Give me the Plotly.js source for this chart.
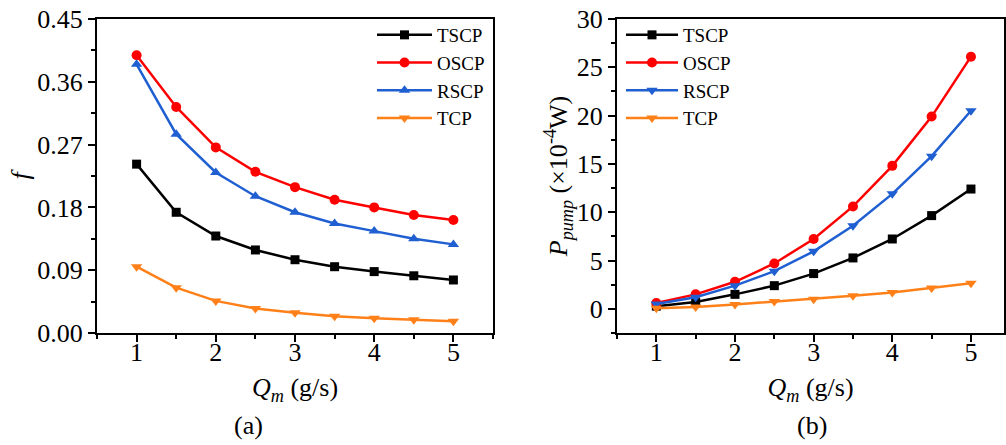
<!DOCTYPE html>
<html>
<head>
<meta charset="utf-8">
<script src="https://cdn.plot.ly/plotly-3.0.1.min.js"></script>
<style>html,body{margin:0;padding:0;background:#fff;}</style>
</head>
<body>
<div id="chart" style="width:1006px;height:445px;"></div>
<script>
const Qm = [1, 1.5, 2, 2.5, 3, 3.5, 4, 4.5, 5];
const seriesNames = ['TSCP', 'OSCP', 'RSCP', 'TCP'];
// (a) friction factor f
const f_TSCP = [0.242, 0.173, 0.139, 0.119, 0.105, 0.095, 0.088, 0.082, 0.076];
const f_OSCP = [0.398, 0.324, 0.266, 0.231, 0.209, 0.191, 0.180, 0.169, 0.162];
const f_RSCP = [0.385, 0.285, 0.230, 0.196, 0.173, 0.157, 0.146, 0.135, 0.127];
const f_TCP  = [0.095, 0.065, 0.046, 0.035, 0.029, 0.024, 0.021, 0.019, 0.017];
// (b) pump power (x10^-4 W)
const P_TSCP = [0.28, 0.7, 1.5, 2.4, 3.65, 5.27, 7.23, 9.65, 12.4];
const P_OSCP = [0.6, 1.5, 2.8, 4.7, 7.23, 10.6, 14.8, 19.9, 26.1];
const P_RSCP = [0.5, 1.2, 2.4, 3.9, 5.95, 8.6, 11.9, 15.8, 20.5];
const P_TCP  = [0.05, 0.2, 0.45, 0.76, 1.0, 1.35, 1.7, 2.15, 2.65];

const colors = ['#000000', '#ff0000', '#1f5fd2', '#ff8019'];
const symbolsA = ['square', 'circle', 'triangle-up', 'triangle-down'];
const symbolsB = ['square', 'circle', 'triangle-down', 'triangle-down'];
const dataA = [f_TSCP, f_OSCP, f_RSCP, f_TCP];
const dataB = [P_TSCP, P_OSCP, P_RSCP, P_TCP];

const traces = [];
dataA.forEach((ys, i) => traces.push({
  x: Qm, y: ys, name: seriesNames[i], type: 'scatter', mode: 'lines+markers',
  xaxis: 'x', yaxis: 'y', legend: 'legend',
  line: {color: colors[i], width: 2.5},
  marker: {symbol: symbolsA[i], size: i === 0 ? 9 : 10, color: colors[i]}
}));
dataB.forEach((ys, i) => traces.push({
  x: Qm, y: ys, name: seriesNames[i], type: 'scatter', mode: 'lines+markers',
  xaxis: 'x2', yaxis: 'y2', legend: 'legend2',
  line: {color: colors[i], width: 2.5},
  marker: {symbol: symbolsB[i], size: i === 0 ? 9 : 10, color: colors[i]}
}));

const FONT = '"Liberation Serif", serif';
const mkFont = (s) => ({family: FONT, size: s, color: '#000'});
const yDom = [(445 - 333) / 445, (445 - 19) / 445];
function axisCommon() {
  return {
    showline: true, linewidth: 2, linecolor: '#000', mirror: true,
    ticks: 'outside', ticklen: 7, tickwidth: 2, tickcolor: '#000',
    showgrid: false, zeroline: false,
    tickfont: mkFont(26)
  };
}
function minorTicks(d, t0) {
  return {dtick: d, tick0: t0, ticks: 'outside', ticklen: 4, tickwidth: 2, tickcolor: '#000'};
}
const qmTitle = () => ({text: '<i>Q</i><sub><i>m</i></sub> (g/s)', font: mkFont(26), standoff: 12});

const layout = {
  width: 1006, height: 445,
  font: mkFont(26),
  margin: {l: 0, r: 0, t: 0, b: 0},
  paper_bgcolor: '#fff', plot_bgcolor: '#fff',
  showlegend: true,
  xaxis: Object.assign(axisCommon(), {
    domain: [97 / 1006, 493 / 1006], range: [0.5, 5.5], tickvals: [1, 2, 3, 4, 5],
    ticklabelstandoff: -12,
    minor: minorTicks(0.5, 0.5), title: qmTitle(), anchor: 'y'
  }),
  yaxis: Object.assign(axisCommon(), {
    domain: yDom, range: [0, 0.45], tick0: 0, dtick: 0.09, tickformat: '.2f',
    minor: minorTicks(0.045, 0),
    title: {text: '<i>f</i>', font: mkFont(26), standoff: 0},
    anchor: 'x'
  }),
  xaxis2: Object.assign(axisCommon(), {
    domain: [617 / 1006, 1004 / 1006], range: [0.5, 5.42], tickvals: [1, 2, 3, 4, 5],
    ticklabelstandoff: -12,
    minor: minorTicks(0.5, 0.5), title: qmTitle(), anchor: 'y2'
  }),
  yaxis2: Object.assign(axisCommon(), {
    domain: yDom, range: [-2.5, 30], tick0: 0, dtick: 5,
    minor: minorTicks(2.5, 0),
    title: {text: '<i>P</i><sub><i>pump</i></sub> (×10<sup>-4</sup>W)', font: mkFont(26), standoff: 0},
    anchor: 'x2'
  }),
  legend: {
    x: 372 / 1006, y: (445 - 16) / 445, xanchor: 'left', yanchor: 'top',
    bgcolor: 'rgba(0,0,0,0)', borderwidth: 0, tracegroupgap: 0, itemwidth: 55,
    font: mkFont(19)
  },
  legend2: {
    x: 621 / 1006, y: (445 - 16) / 445, xanchor: 'left', yanchor: 'top',
    bgcolor: 'rgba(0,0,0,0)', borderwidth: 0, tracegroupgap: 0, itemwidth: 52,
    font: mkFont(19)
  },
  annotations: [
    {text: '(a)', x: 248 / 1006, y: (445 - 425) / 445, xref: 'paper', yref: 'paper', showarrow: false,
     xanchor: 'center', yanchor: 'middle', font: mkFont(26)},
    {text: '(b)', x: 812 / 1006, y: (445 - 425) / 445, xref: 'paper', yref: 'paper', showarrow: false,
     xanchor: 'center', yanchor: 'middle', font: mkFont(26)}
  ]
};

Plotly.newPlot('chart', traces, layout, {displayModeBar: false, staticPlot: true});
</script>
</body>
</html>
